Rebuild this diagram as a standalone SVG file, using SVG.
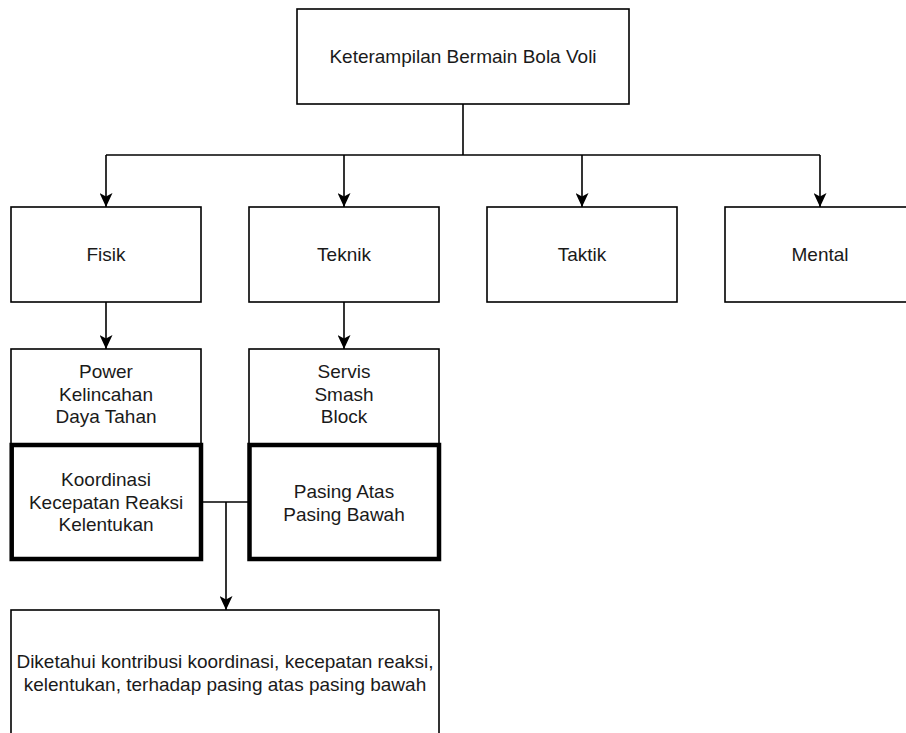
<svg xmlns="http://www.w3.org/2000/svg" width="906" height="733" viewBox="0 0 906 733">
<style>
.box{fill:#fff;stroke:#000;stroke-width:1.6}
.thick{fill:#fff;stroke:#000;stroke-width:4.5}
.lbl{font-family:"Liberation Sans",Arial,Helvetica,sans-serif;font-size:19px;fill:#1a1a1a;text-anchor:middle}
.edge{fill:none;stroke:#000;stroke-width:1.6}
</style>
<defs>
<marker id="arr" markerUnits="userSpaceOnUse" markerWidth="14" markerHeight="13" viewBox="0 0 14 13" refX="14" refY="6.5" orient="auto">
<path d="M0,0 L14,6.5 L0,13 L3.5,6.5 Z" fill="#000"/>
</marker>
</defs>
<rect width="906" height="733" fill="#fff"/>
<g id="connectors">
<path class="edge" d="M463,104 V155"/>
<path class="edge" d="M106,155 H820"/>
<path class="edge" d="M106,155 V207" marker-end="url(#arr)"/>
<path class="edge" d="M344,155 V207" marker-end="url(#arr)"/>
<path class="edge" d="M582,155 V207" marker-end="url(#arr)"/>
<path class="edge" d="M820,155 V207" marker-end="url(#arr)"/>
<path class="edge" d="M106,302 V349" marker-end="url(#arr)"/>
<path class="edge" d="M344,302 V349" marker-end="url(#arr)"/>
<path class="edge" d="M203,502 H248"/>
<path class="edge" d="M226,502 V610" marker-end="url(#arr)"/>
</g>
<g id="n-root">
<rect class="box" x="297" y="9" width="332" height="95"/>
<text class="lbl" x="463" y="63">Keterampilan Bermain Bola Voli</text>
</g>
<g id="n-fisik">
<rect class="box" x="11" y="207" width="190" height="95"/>
<text class="lbl" x="106" y="261">Fisik</text>
</g>
<g id="n-teknik">
<rect class="box" x="249" y="207" width="190" height="95"/>
<text class="lbl" x="344" y="261">Teknik</text>
</g>
<g id="n-taktik">
<rect class="box" x="487" y="207" width="190" height="95"/>
<text class="lbl" x="582" y="261">Taktik</text>
</g>
<g id="n-mental">
<rect class="box" x="725" y="207" width="190" height="95"/>
<text class="lbl" x="820" y="261">Mental</text>
</g>
<g id="n-power">
<rect class="box" x="11" y="349" width="190" height="96"/>
<text class="lbl" x="106" y="378">Power</text>
<text class="lbl" x="106" y="400.5">Kelincahan</text>
<text class="lbl" x="106" y="423">Daya Tahan</text>
</g>
<g id="n-servis">
<rect class="box" x="249" y="349" width="190" height="96"/>
<text class="lbl" x="344" y="378">Servis</text>
<text class="lbl" x="344" y="400.5">Smash</text>
<text class="lbl" x="344" y="423">Block</text>
</g>
<g id="n-koordinasi">
<rect class="thick" x="11.7" y="445" width="189.3" height="114"/>
<text class="lbl" x="106" y="486">Koordinasi</text>
<text class="lbl" x="106" y="508.5">Kecepatan Reaksi</text>
<text class="lbl" x="106" y="531">Kelentukan</text>
</g>
<g id="n-pasing">
<rect class="thick" x="249.5" y="445" width="189.5" height="114"/>
<text class="lbl" x="344" y="498">Pasing Atas</text>
<text class="lbl" x="344" y="520.5">Pasing Bawah</text>
</g>
<g id="n-hasil">
<rect class="box" x="11" y="610" width="428" height="130"/>
<text class="lbl" x="225" y="668">Diketahui kontribusi koordinasi, kecepatan reaksi,</text>
<text class="lbl" x="225" y="691">kelentukan, terhadap pasing atas pasing bawah</text>
</g>
</svg>
